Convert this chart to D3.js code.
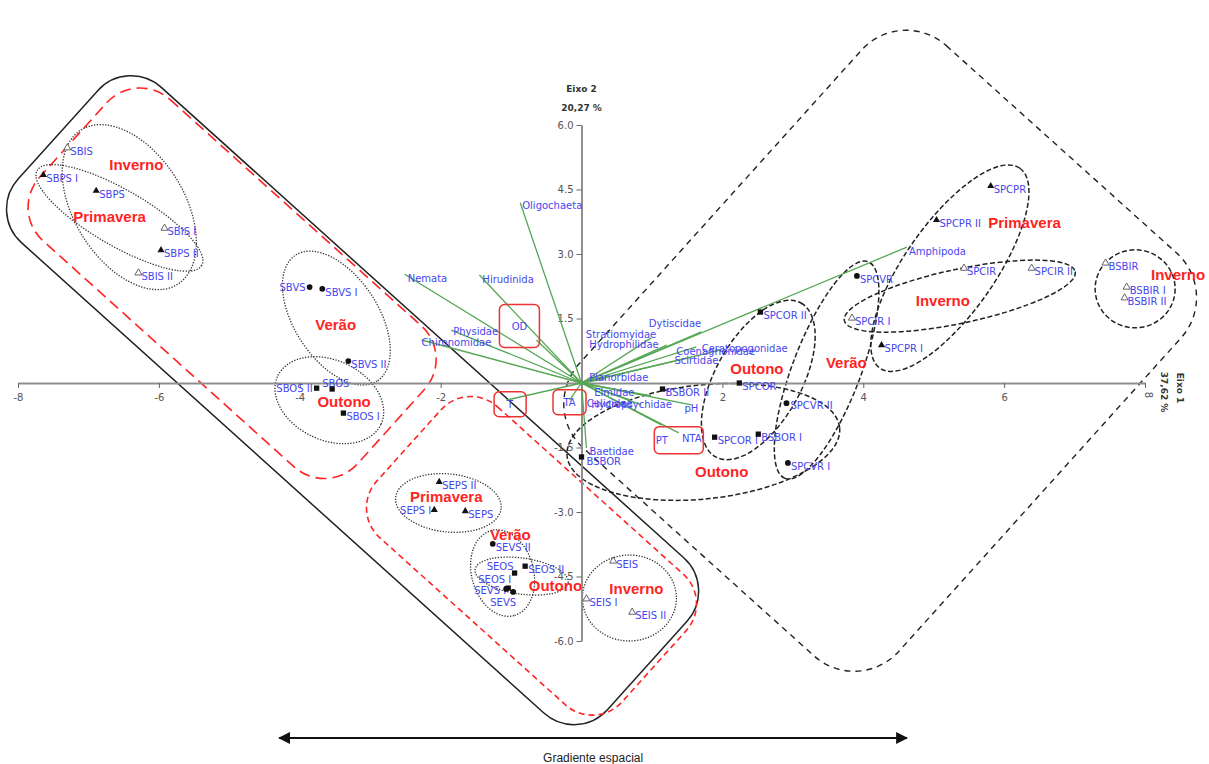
<!DOCTYPE html>
<html>
<head>
<meta charset="utf-8">
<script src="https://cdnjs.cloudflare.com/ajax/libs/d3/7.8.5/d3.min.js"></script>
<style>
  body { margin: 0; background: #fff; }
  svg { display: block; }
</style>
</head>
<body>
<div id="chart"></div>
<script>
// axis ticks
const xTicks = [-8, -6, -4, -2, 2, 4, 6, 8];
const yTicks = [6, 4.5, 3, 1.5, -1.5, -3, -4.5, -6];

// sampling units (scores on axis 1 / axis 2), season: I, P, V, O
const siteNames = ["SBIS", "SBPS I", "SBPS", "SBIS I", "SBPS II", "SBIS II",
  "SBVS", "SBVS I", "SBVS II", "SBOS II", "SBOS", "SBOS I",
  "SEPS II", "SEPS I", "SEPS", "SEVS II", "SEOS", "SEOS II", "SEOS I", "SEVS I", "SEVS",
  "SEIS", "SEIS I", "SEIS II",
  "BSBOR", "BSBOR II", "BSBOR I", "SPCOR", "SPCOR II", "SPCOR I",
  "SPCVR", "SPCVR II", "SPCVR I", "SPCIR I", "SPCPR I", "SPCPR", "SPCPR II",
  "SPCIR", "SPCIR II", "BSBIR", "BSBIR I", "BSBIR II"];
const siteAxis1 = [-7.30, -7.64, -6.89, -5.92, -5.97, -6.29,
  -3.86, -3.68, -3.31, -3.76, -3.54, -3.38,
  -2.02, -2.09, -1.65, -1.26, -0.95, -0.80, -1.04, -1.07, -0.97,
  0.45, 0.07, 0.72,
  0.00, 1.15, 2.51, 2.24, 2.54, 1.89,
  3.91, 2.91, 2.93, 3.84, 4.26, 5.81, 5.04,
  5.43, 6.39, 7.44, 7.74, 7.71];
const siteAxis2 = [5.47, 4.84, 4.47, 3.60, 3.09, 2.56,
  2.23, 2.19, 0.51, -0.12, -0.14, -0.70,
  -2.30, -2.95, -2.98, -3.74, -4.42, -4.26, -4.77, -4.79, -4.86,
  -4.14, -5.02, -5.33,
  -1.72, -0.14, -1.19, 0.00, 1.65, -1.26,
  2.49, -0.47, -1.86, 1.51, 0.88, 4.58, 3.79,
  2.67, 2.67, 2.79, 2.23, 1.98];
const siteSeason = ["I", "P", "P", "I", "P", "I",
  "V", "V", "V", "O", "O", "O",
  "P", "P", "P", "V", "O", "O", "O", "V", "V",
  "I", "I", "I",
  "O", "O", "O", "O", "O", "O",
  "V", "V", "V", "I", "P", "P", "P",
  "I", "I", "I", "I", "I"];

// taxa (species arrows)
const taxaNames = ["Oligochaeta", "Nemata", "Hirudinida", "Physidae", "Chironomidae",
  "Amphipoda", "Dytiscidae", "Stratiomyidae", "Hydrophilidae", "Coenagrionidae",
  "Ceratopogonidae", "Scirtidae", "Planorbidae", "Elmidae", "Culicidae", "Hydropsychidae", "Baetidae"];
const taxaAxis1 = [-0.87, -2.51, -1.45, -1.85, -2.27, 4.62, 1.70, 0.99, 1.21, 1.63, 1.99, 1.56, 0.35, 0.99, 0.70, 0.85, 0.07];
const taxaAxis2 = [4.19, 2.53, 2.51, 1.23, 1.00, 3.16, 1.19, 1.05, 0.88, 0.84, 0.77, 0.60, 0.10, -0.30, -0.40, -0.51, -1.51];

// environmental variables
const envNames = ["OD", "T", "TA", "pH", "PT", "NTA"];
const envAxis1 = [-0.64, -1.07, -0.17, 1.56, 1.14, 1.38];
const envAxis2 = [1.00, -0.40, -0.40, -0.51, -0.98, -1.16];

// season group names and where they sit (axis units)
const seasonText = ["Inverno", "Primavera", "Verão", "Outono", "Primavera", "Verão", "Outono", "Inverno",
  "Outono", "Outono", "Verão", "Primavera", "Inverno", "Inverno"];
const seasonAxis1 = [-6.32, -6.70, -3.49, -3.37, -1.92, -1.01, -0.37, 0.78, 2.49, 1.99, 3.76, 6.29, 5.13, 8.47];
const seasonAxis2 = [5.07, 3.88, 1.37, -0.44, -2.63, -3.53, -4.72, -4.77, 0.33, -2.05, 0.47, 3.74, 1.93, 2.53];

const width = 1209, height = 764;
const blue = "#4646ee", red = "#ff2424", green = "#55a655";

const svg = d3.select("#chart").append("svg")
  .attr("width", width).attr("height", height)
  .attr("font-family", "DejaVu Sans, Verdana, sans-serif");

const x = d3.scaleLinear().domain([-8, 8]).range([18, 1145]);
const y = d3.scaleLinear().domain([-6, 6]).range([641, 125]);

// ---- group envelopes ----
const hulls = svg.append("g").attr("fill", "none");

function addEllipse(cx, cy, a, b, angle, style) {
  hulls.append("ellipse")
    .attr("rx", a).attr("ry", b)
    .attr("transform", `translate(${x(cx)},${y(cy)}) rotate(${angle})`)
    .attr("stroke", style.color)
    .attr("stroke-width", style.w)
    .attr("stroke-dasharray", style.dash);
}
function addBox(cx, cy, w, h, r, angle, style) {
  hulls.append("rect")
    .attr("x", -w / 2).attr("y", -h / 2)
    .attr("width", w).attr("height", h)
    .attr("rx", r).attr("ry", r)
    .attr("transform", `translate(${x(cx)},${y(cy)}) rotate(${angle})`)
    .attr("stroke", style.color)
    .attr("stroke-width", style.w)
    .attr("stroke-dasharray", style.dash);
}

const dotted = { color: "#333", w: 1.3, dash: "1.3,1.5" };
const dashed = { color: "#222", w: 1.5, dash: "5,2.5" };

// big envelopes
addBox(-3.25, -0.40, 793, 209, 45, 42, { color: "#222", w: 1.5, dash: null });
addBox(-4.96, 2.32, 428, 190, 45, 42, { color: red, w: 1.6, dash: "11,6" });
addBox(-0.71, -4.02, 330, 176, 40, 42, { color: red, w: 1.6, dash: "6,4" });
addBox(4.24, 0.75, 430, 542, 60, 42, { color: "#222", w: 1.4, dash: "6,5" });

// SB / SE ellipses (dotted)
addEllipse(-6.42, 4.09, 91, 55, 58, dotted);
addEllipse(-6.56, 3.84, 95, 28, 30, dotted);
addEllipse(-3.48, 1.51, 75, 42, 57, dotted);
addEllipse(-3.58, -0.40, 57, 40, 25, dotted);
addEllipse(-1.89, -2.79, 53, 29, 6, dotted);
addEllipse(-1.12, -4.42, 44, 31, 75, dotted);
addEllipse(-0.85, -4.49, 47, 18, 8, dotted);
addEllipse(0.68, -5.00, 47, 43, 0, dotted);

// SPC / BSB ellipses (dashed)
addEllipse(5.23, 2.67, 122, 45, -55, dashed);
addEllipse(5.37, 2.02, 118, 27, -12, dashed);
addEllipse(3.48, 0.30, 116, 34, 111, dashed);
addEllipse(2.51, 0.07, 88, 43, -61, dashed);
addEllipse(1.73, -1.37, 137, 57, -6, dashed);
addEllipse(7.86, 2.19, 40, 39, 0, dashed);

// ---- axes ----
const xAxis = d3.axisBottom(x)
  .tickValues(xTicks)
  .tickSize(5)
  .tickSizeOuter(0)
  .tickPadding(6)
  .tickFormat(d => String(d));
const gx = svg.append("g")
  .attr("transform", `translate(0,${y(0)})`)
  .call(xAxis);

const yAxis = d3.axisLeft(y)
  .tickValues(yTicks)
  .tickSize(5)
  .tickSizeOuter(0)
  .tickPadding(3)
  .tickFormat(d => d.toFixed(1));
const gy = svg.append("g")
  .attr("transform", `translate(${x(0)},0)`)
  .call(yAxis);

[gx, gy].forEach(g => {
  g.select(".domain").attr("stroke", "#8f8f8f").attr("stroke-width", 2);
  g.selectAll(".tick line").attr("stroke", "#666");
  g.selectAll(".tick text").attr("fill", "#555").attr("font-size", 10)
    .attr("font-family", "DejaVu Sans, sans-serif");
});
// last x tick label is turned like the axis title
gx.selectAll(".tick text").filter(d => d === 8)
  .attr("transform", "translate(3,12) rotate(90)")
  .attr("y", 0).attr("dy", "0.35em");

svg.append("text").attr("x", x(0)).attr("y", 92).attr("text-anchor", "middle")
  .attr("font-size", 9).attr("font-weight", "bold").attr("fill", "#333").text("Eixo 2");
svg.append("text").attr("x", x(0)).attr("y", 111).attr("text-anchor", "middle")
  .attr("font-size", 9).attr("font-weight", "bold").attr("fill", "#333").text("20,27 %");

svg.append("text").attr("transform", `translate(1177,388) rotate(90)`)
  .attr("text-anchor", "middle").attr("font-size", 9).attr("font-weight", "bold")
  .attr("fill", "#333").text("Eixo 1");
svg.append("text").attr("transform", `translate(1161,392) rotate(90)`)
  .attr("text-anchor", "middle").attr("font-size", 9).attr("font-weight", "bold")
  .attr("fill", "#333").text("37,62 %");

// ---- arrows (taxa + environment) ----
const arrows = svg.append("g").attr("stroke", green).attr("stroke-width", 1.3);
taxaNames.forEach((n, i) => {
  arrows.append("line")
    .attr("x1", x(0)).attr("y1", y(0))
    .attr("x2", x(taxaAxis1[i])).attr("y2", y(taxaAxis2[i]));
});
envNames.forEach((n, i) => {
  arrows.append("line")
    .attr("x1", x(0)).attr("y1", y(0))
    .attr("x2", x(envAxis1[i])).attr("y2", y(envAxis2[i]));
});

// label offsets for taxa: [anchor, dx, dy]
const taxaLabelPos = {
  "Oligochaeta": ["start", 2, 6],
  "Nemata": ["start", 3, 8],
  "Hirudinida": ["start", 3, 8],
  "Physidae": ["start", 2, 5],
  "Chironomidae": ["start", 0, 6],
  "Amphipoda": ["start", 2, 8],
  "Dytiscidae": ["end", 0, -5],
  "Stratiomyidae": ["end", 5, 0],
  "Hydrophilidae": ["end", -8, 3],
  "Coenagrionidae": ["start", -20, 8],
  "Ceratopogonidae": ["start", -20, 2],
  "Scirtidae": ["start", -17, 7],
  "Planorbidae": ["start", -17, 2],
  "Elmidae": ["start", -57, 0],
  "Culicidae": ["start", -44, 7],
  "Hydropsychidae": ["start", -50, 3],
  "Baetidae": ["start", 3, 7]
};
const labels = svg.append("g").attr("font-size", 10).attr("fill", blue);
taxaNames.forEach((n, i) => {
  const p = taxaLabelPos[n];
  labels.append("text")
    .attr("x", x(taxaAxis1[i]) + p[1]).attr("y", y(taxaAxis2[i]) + p[2])
    .attr("text-anchor", p[0]).text(n);
});

// environmental variables, boxed in red
const envLabelPos = {
  "OD": [-17, -14], "T": [4, 4], "TA": [0, 2], "pH": [0, 3], "PT": [0, 15], "NTA": [13, 5]
};
envNames.forEach((n, i) => {
  const p = envLabelPos[n];
  labels.append("text")
    .attr("x", x(envAxis1[i]) + p[0]).attr("y", y(envAxis2[i]) + p[1] + 4)
    .attr("text-anchor", "middle").text(n);
});
const envBoxes = [["OD", 40, 43], ["T", 32, 25], ["TA", 33, 25], ["PT", 49, 27]];
envBoxes.forEach(([n, w, h]) => {
  const i = envNames.indexOf(n);
  const p = envLabelPos[n];
  let cx = x(envAxis1[i]) + p[0], cy = y(envAxis2[i]) + p[1];
  if (n === "PT") cx += 17;
  svg.append("rect")
    .attr("x", cx - w / 2).attr("y", cy - h / 2)
    .attr("width", w).attr("height", h).attr("rx", 5)
    .attr("fill", "none").attr("stroke", "#ee3333").attr("stroke-width", 1.5);
});

// ---- sampling units ----
const symbolFor = {
  I: d3.symbol().type(d3.symbolTriangle).size(22),
  P: d3.symbol().type(d3.symbolTriangle).size(22),
  V: d3.symbol().type(d3.symbolCircle).size(26),
  O: d3.symbol().type(d3.symbolSquare).size(28)
};
const sitePos = {
  "SBVS": ["end", -4, 4],
  "SBOS II": ["end", -4, 4],
  "SBOS": ["start", -10, -2],
  "SEPS I": ["end", -3, 4],
  "SEOS": ["end", -1, -3],
  "SEOS I": ["end", 3, -5],
  "SEVS I": ["end", 0, 5],
  "SEVS": ["middle", -10, 14],
  "BSBOR": ["start", 5, 8],
  "SPCVR II": ["start", 4, 6]
};
const sites = svg.append("g");
siteNames.forEach((n, i) => {
  const s = siteSeason[i];
  const px = x(siteAxis1[i]), py = y(siteAxis2[i]);
  sites.append("path")
    .attr("d", symbolFor[s]())
    .attr("transform", `translate(${px},${py})`)
    .attr("fill", s === "I" ? "#fff" : "#111")
    .attr("stroke", s === "I" ? "#555" : "none")
    .attr("stroke-width", 0.9);
  const p = sitePos[n] || ["start", 3, 7];
  labels.append("text")
    .attr("x", px + p[1]).attr("y", py + p[2])
    .attr("text-anchor", p[0]).text(n);
});

// ---- season names ----
const seasons = svg.append("g")
  .attr("font-family", "Liberation Sans, Arial, sans-serif")
  .attr("font-size", 15).attr("font-weight", "bold").attr("fill", red);
seasonText.forEach((t, i) => {
  seasons.append("text")
    .attr("x", x(seasonAxis1[i])).attr("y", y(seasonAxis2[i]))
    .attr("text-anchor", "middle").attr("dominant-baseline", "central")
    .text(t);
});

// ---- spatial gradient arrow ----
const gradFrom = -4.29, gradTo = 4.62;
const gy0 = 738;
svg.append("defs").append("marker")
  .attr("id", "head").attr("viewBox", "0 0 10 10")
  .attr("refX", 9).attr("refY", 5)
  .attr("markerWidth", 6).attr("markerHeight", 6)
  .attr("orient", "auto-start-reverse")
  .append("path").attr("d", "M0,0L10,5L0,10z").attr("fill", "#111");
svg.append("line")
  .attr("x1", x(gradFrom)).attr("x2", x(gradTo))
  .attr("y1", gy0).attr("y2", gy0)
  .attr("stroke", "#111").attr("stroke-width", 2)
  .attr("marker-start", "url(#head)").attr("marker-end", "url(#head)");
svg.append("text")
  .attr("x", (x(gradFrom) + x(gradTo)) / 2).attr("y", 762)
  .attr("text-anchor", "middle")
  .attr("font-family", "Liberation Sans, Arial, sans-serif")
  .attr("font-size", 12).attr("fill", "#222")
  .text("Gradiente espacial");
</script>
</body>
</html>
